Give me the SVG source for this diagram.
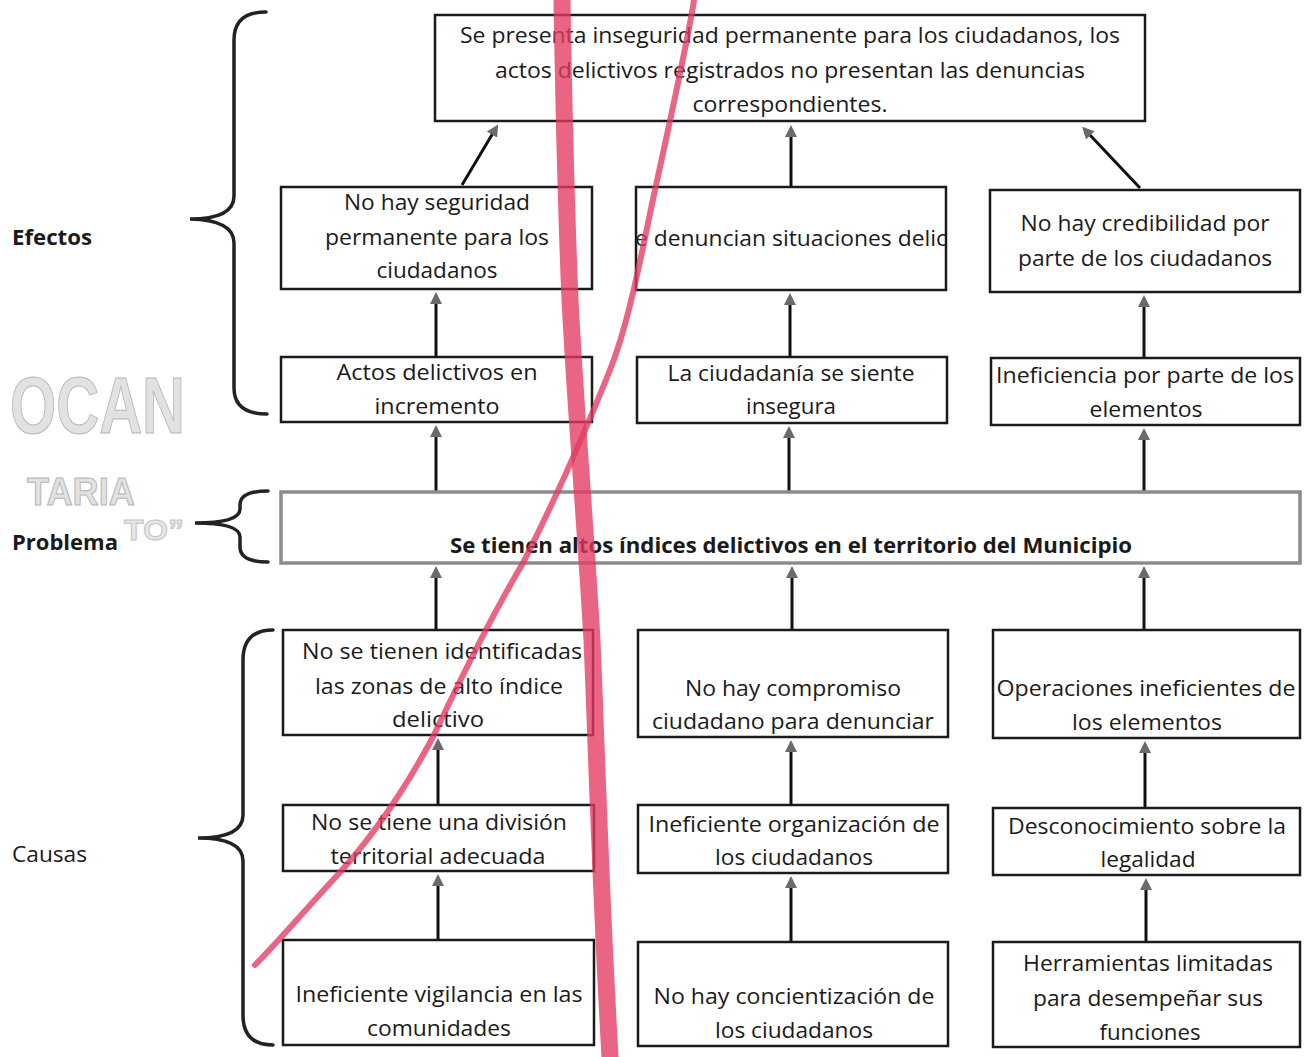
<svg xmlns="http://www.w3.org/2000/svg" width="1307" height="1057" viewBox="0 0 1307 1057">
<style>
.box{fill:#fff;stroke:#1a1a1a;stroke-width:2.5}
.prob{fill:#fff;stroke:#8c8c8c;stroke-width:3.5}
.t{font-family:"Open Sans","Liberation Sans",sans-serif;font-size:21px;fill:#1a1a1a;text-anchor:middle}
.tb{font-family:"Open Sans","Liberation Sans",sans-serif;font-size:21px;font-weight:bold;fill:#1a1a1a}
.lbl{font-family:"Open Sans","Liberation Sans",sans-serif;font-size:21px;fill:#1a1a1a}
.con{stroke:#111;stroke-width:3;fill:none;marker-end:url(#ah)}
.brace{stroke:#222;stroke-width:3.5;fill:none;stroke-linecap:round}
.wm{font-family:"Liberation Sans",Arial,sans-serif;font-weight:bold;fill:#e2e2e2;stroke:#b5b5b5;stroke-width:1}
.red{fill:none;stroke:#e33a60;stroke-linecap:round;stroke-linejoin:round;opacity:0.78}
</style>
<defs>
<marker id="ah" markerUnits="userSpaceOnUse" markerWidth="14" markerHeight="14" refX="2" refY="6" orient="auto">
<path d="M0,0 L12,6 L0,12 z" fill="#6a6a6a"/>
</marker>
<clipPath id="clipB"><rect x="637" y="188" width="309" height="101"/></clipPath>
</defs>
<rect width="1307" height="1057" fill="#fff"/>

<g id="watermark">
<text class="wm" x="10" y="433" font-size="80" textLength="175" lengthAdjust="spacingAndGlyphs">OCAN</text>
<text class="wm" x="27" y="505" font-size="38" textLength="108" lengthAdjust="spacingAndGlyphs">TARIA</text>
<text class="wm" x="124" y="540" font-size="30" textLength="60" lengthAdjust="spacingAndGlyphs" style="fill:#e6e6e6;stroke:#c4c4c4">TO”</text>
</g>

<g id="labels">
<text class="tb" x="12" y="245" textLength="80" lengthAdjust="spacingAndGlyphs">Efectos</text>
<text class="tb" x="12" y="550" textLength="106" lengthAdjust="spacingAndGlyphs">Problema</text>
<text class="lbl" x="12" y="862" textLength="75" lengthAdjust="spacingAndGlyphs">Causas</text>
</g>

<g id="braces">
<path class="brace" d="M266,12 Q234,12 234,40 L234,196 Q234,219 190,219 Q234,220 234,243 L234,388 Q234,414 267,414"/>
<path class="brace" d="M268,491 Q240,491 240,505 L240,509 Q240,523 195,523 Q240,523 240,537 L240,547 Q240,562 268,562"/>
<path class="brace" d="M273,630 Q243,630 243,660 L243,815 Q243,838 198,838 Q243,838 243,861 L243,1015 Q243,1045 273,1045"/>
</g>

<g id="connectors">
<line class="con" x1="438" y1="940" x2="438" y2="884"/>
<line class="con" x1="438" y1="805" x2="438" y2="748"/>
<line class="con" x1="436" y1="630" x2="436" y2="576"/>
<line class="con" x1="791" y1="942" x2="791" y2="886"/>
<line class="con" x1="791" y1="805" x2="791" y2="750"/>
<line class="con" x1="792" y1="630" x2="792" y2="576"/>
<line class="con" x1="1146" y1="942" x2="1146" y2="888"/>
<line class="con" x1="1145" y1="808" x2="1145" y2="751"/>
<line class="con" x1="1144" y1="630" x2="1144" y2="576"/>
<line class="con" x1="436" y1="492" x2="436" y2="435"/>
<line class="con" x1="436" y1="357" x2="436" y2="302"/>
<line class="con" x1="789" y1="492" x2="789" y2="436"/>
<line class="con" x1="790" y1="357" x2="790" y2="303"/>
<line class="con" x1="1144" y1="492" x2="1144" y2="438"/>
<line class="con" x1="1144" y1="358" x2="1144" y2="305"/>
<line class="con" x1="462" y1="185" x2="493" y2="133"/>
<line class="con" x1="791" y1="187" x2="791" y2="135"/>
<line class="con" x1="1140" y1="188" x2="1089" y2="134"/>
</g>

<g id="n-top">
<rect class="box" x="435" y="15" width="710" height="106"/>
<text class="t" x="790" y="43" textLength="660" lengthAdjust="spacingAndGlyphs">Se presenta inseguridad permanente para los ciudadanos, los</text>
<text class="t" x="790" y="78" textLength="590" lengthAdjust="spacingAndGlyphs">actos delictivos registrados no presentan las denuncias</text>
<text class="t" x="790" y="112" textLength="195" lengthAdjust="spacingAndGlyphs">correspondientes.</text>
</g>

<g id="n-e1a">
<rect class="box" x="281" y="187" width="311" height="102"/>
<text class="t" x="437" y="210" textLength="186" lengthAdjust="spacingAndGlyphs">No hay seguridad</text>
<text class="t" x="437" y="245" textLength="224" lengthAdjust="spacingAndGlyphs">permanente para los</text>
<text class="t" x="437" y="278" textLength="121" lengthAdjust="spacingAndGlyphs">ciudadanos</text>
</g>
<g id="n-e1b">
<rect class="box" x="636" y="187" width="310" height="103"/>
<text class="t" x="791" y="246" textLength="312" lengthAdjust="spacingAndGlyphs" clip-path="url(#clipB)">e denuncian situaciones delic</text>
</g>
<g id="n-e1c">
<rect class="box" x="990" y="190" width="310" height="102"/>
<text class="t" x="1145" y="231" textLength="249" lengthAdjust="spacingAndGlyphs">No hay credibilidad por</text>
<text class="t" x="1145" y="266" textLength="254" lengthAdjust="spacingAndGlyphs">parte de los ciudadanos</text>
</g>

<g id="n-e2a">
<rect class="box" x="281" y="357" width="311" height="65"/>
<text class="t" x="437" y="380" textLength="201" lengthAdjust="spacingAndGlyphs">Actos delictivos en</text>
<text class="t" x="437" y="414" textLength="125" lengthAdjust="spacingAndGlyphs">incremento</text>
</g>
<g id="n-e2b">
<rect class="box" x="637" y="357" width="310" height="66"/>
<text class="t" x="791" y="381" textLength="247" lengthAdjust="spacingAndGlyphs">La ciudadanía se siente</text>
<text class="t" x="791" y="414" textLength="90" lengthAdjust="spacingAndGlyphs">insegura</text>
</g>
<g id="n-e2c">
<rect class="box" x="991" y="358" width="309" height="67"/>
<text class="t" x="1145" y="383" textLength="298" lengthAdjust="spacingAndGlyphs">Ineficiencia por parte de los</text>
<text class="t" x="1146" y="417" textLength="113" lengthAdjust="spacingAndGlyphs">elementos</text>
</g>

<g id="n-problema">
<rect class="prob" x="281" y="492" width="1019" height="71"/>
<text class="tb" x="791" y="553" text-anchor="middle" textLength="682" lengthAdjust="spacingAndGlyphs">Se tienen altos índices delictivos en el territorio del Municipio</text>
</g>

<g id="n-c1a">
<rect class="box" x="283" y="630" width="310" height="105"/>
<text class="t" x="442" y="659" textLength="280" lengthAdjust="spacingAndGlyphs">No se tienen identificadas</text>
<text class="t" x="439" y="694" textLength="248" lengthAdjust="spacingAndGlyphs">las zonas de alto índice</text>
<text class="t" x="438" y="727" textLength="92" lengthAdjust="spacingAndGlyphs">delictivo</text>
</g>
<g id="n-c1b">
<rect class="box" x="638" y="630" width="310" height="107"/>
<text class="t" x="793" y="696" textLength="216" lengthAdjust="spacingAndGlyphs">No hay compromiso</text>
<text class="t" x="793" y="729" textLength="282" lengthAdjust="spacingAndGlyphs">ciudadano para denunciar</text>
</g>
<g id="n-c1c">
<rect class="box" x="993" y="630" width="307" height="108"/>
<text class="t" x="1146" y="696" textLength="299" lengthAdjust="spacingAndGlyphs">Operaciones ineficientes de</text>
<text class="t" x="1147" y="730" textLength="150" lengthAdjust="spacingAndGlyphs">los elementos</text>
</g>

<g id="n-c2a">
<rect class="box" x="283" y="805" width="311" height="66"/>
<text class="t" x="439" y="830" textLength="256" lengthAdjust="spacingAndGlyphs">No se tiene una división</text>
<text class="t" x="438" y="864" textLength="215" lengthAdjust="spacingAndGlyphs">territorial adecuada</text>
</g>
<g id="n-c2b">
<rect class="box" x="638" y="805" width="310" height="68"/>
<text class="t" x="794" y="832" textLength="291" lengthAdjust="spacingAndGlyphs">Ineficiente organización de</text>
<text class="t" x="794" y="865" textLength="158" lengthAdjust="spacingAndGlyphs">los ciudadanos</text>
</g>
<g id="n-c2c">
<rect class="box" x="993" y="808" width="307" height="67"/>
<text class="t" x="1147" y="834" textLength="278" lengthAdjust="spacingAndGlyphs">Desconocimiento sobre la</text>
<text class="t" x="1148" y="867" textLength="95" lengthAdjust="spacingAndGlyphs">legalidad</text>
</g>

<g id="n-c3a">
<rect class="box" x="283" y="940" width="311" height="105"/>
<text class="t" x="439" y="1002" textLength="287" lengthAdjust="spacingAndGlyphs">Ineficiente vigilancia en las</text>
<text class="t" x="439" y="1036" textLength="144" lengthAdjust="spacingAndGlyphs">comunidades</text>
</g>
<g id="n-c3b">
<rect class="box" x="638" y="942" width="310" height="104"/>
<text class="t" x="794" y="1004" textLength="281" lengthAdjust="spacingAndGlyphs">No hay concientización de</text>
<text class="t" x="794" y="1038" textLength="158" lengthAdjust="spacingAndGlyphs">los ciudadanos</text>
</g>
<g id="n-c3c">
<rect class="box" x="993" y="942" width="307" height="105"/>
<text class="t" x="1148" y="971" textLength="250" lengthAdjust="spacingAndGlyphs">Herramientas limitadas</text>
<text class="t" x="1148" y="1006" textLength="230" lengthAdjust="spacingAndGlyphs">para desempeñar sus</text>
<text class="t" x="1150" y="1040" textLength="101" lengthAdjust="spacingAndGlyphs">funciones</text>
</g>

<g id="pen-marks">
<path class="red" stroke-width="17" d="M562,0 C563,60 565,180 570,300 C575,400 585,520 592,640 C597,760 600,880 610,1057"/>
<path class="red" stroke-width="6" d="M694,0 C688,40 668,130 655,190 C642,250 630,320 610,370 C590,420 560,490 523,563 C495,610 460,680 433,737 C410,780 375,835 333,880 C305,910 280,940 255,965"/>
</g>
</svg>
